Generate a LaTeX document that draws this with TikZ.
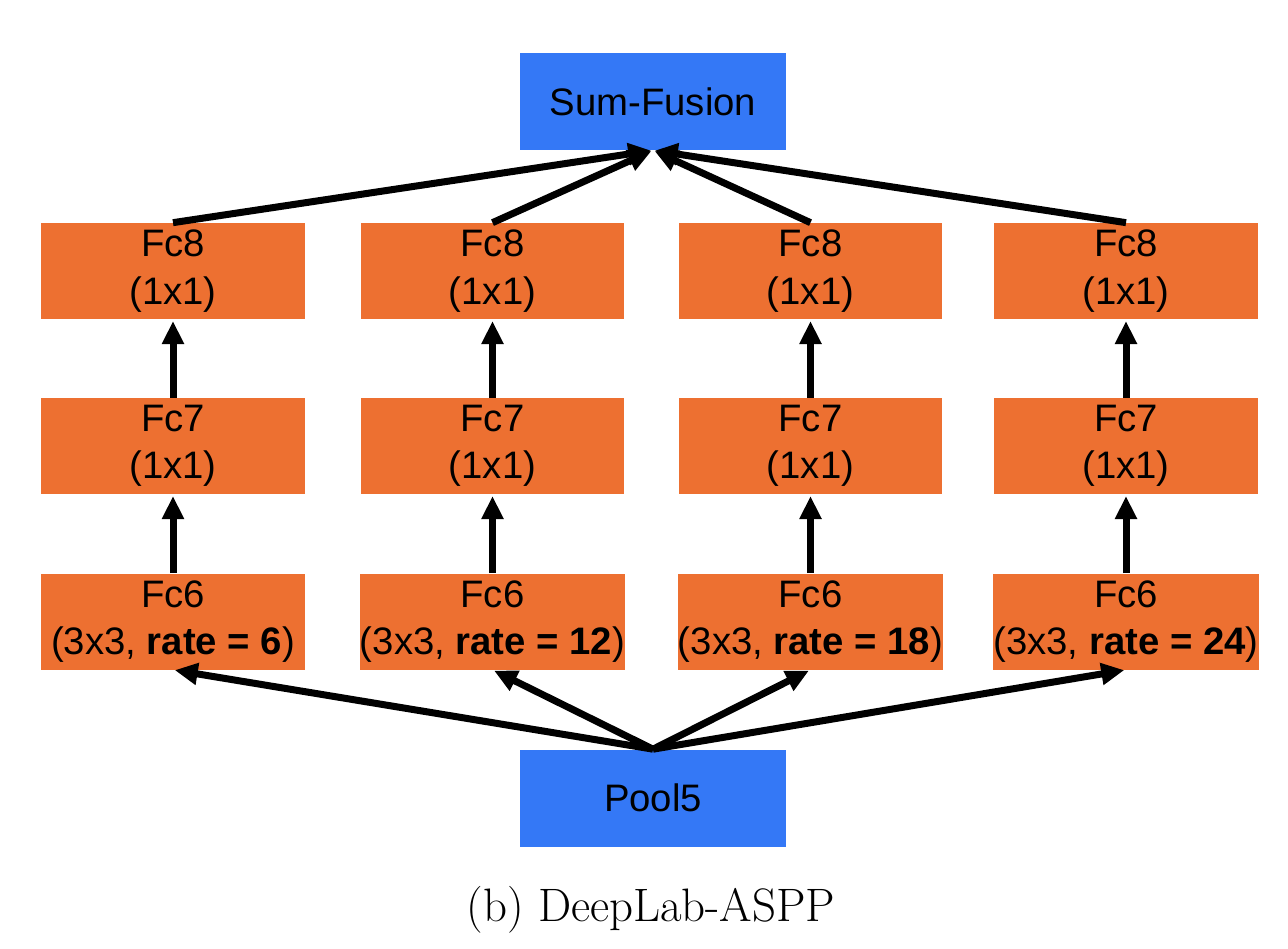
\documentclass[tikz,border=0pt]{standalone}
\usepackage{fontspec}
\setsansfont{Liberation Sans}
\usetikzlibrary{arrows.meta}
\definecolor{boxorange}{HTML}{ED7031}
\definecolor{boxblue}{HTML}{3478F6}
\tikzset{
  layer/.style={fill=boxorange, minimum width=5.28cm, minimum height=1.92cm, inner sep=0pt,
    align=center, font=\sffamily\fontsize{21.8}{27}\selectfont},
  io/.style={fill=boxblue, minimum width=5.32cm, minimum height=1.94cm, inner sep=0pt,
    align=center, font=\sffamily\fontsize{21.8}{27}\selectfont},
  conn/.style={line width=0.14cm, -{Triangle[length=0.46cm,width=0.42cm]}, shorten >=1pt},
}
\begin{document}
\begin{tikzpicture}[x=0.02cm,y=-0.02cm]
\useasboundingbox (0,0) rectangle (1288,948);
% top / bottom boxes
\node[io] (sf) at (653,101.5) {Sum-Fusion};
\node[io] (p5) at (653,798) {Pool5};
% columns
\foreach \n/\cx/\r in {a/173/6, b/492.5/12, c/810.5/18, d/1126/24}{
  \node[layer] (f8\n) at (\cx,271) {Fc8\\(1x1)};
  \node[layer] (f7\n) at (\cx,446) {Fc7\\(1x1)};
  \node[layer] (f6\n) at (\cx,621.5) {Fc6\\(3x3, \textbf{rate = \r})};
}
\foreach \n in {a,b,c,d}{
  \draw[conn] (f6\n.north) -- (f7\n.south);
  \draw[conn] (f7\n.north) -- (f8\n.south);
  \draw[conn] (f8\n.north) -- (sf.south);
  \draw[conn] (p5.north) -- (f6\n.south);
}
\node[font=\fontsize{26.7}{30}\selectfont] (cap) at (651,910) {(b) DeepLab-ASPP};
\end{tikzpicture}
\end{document}
